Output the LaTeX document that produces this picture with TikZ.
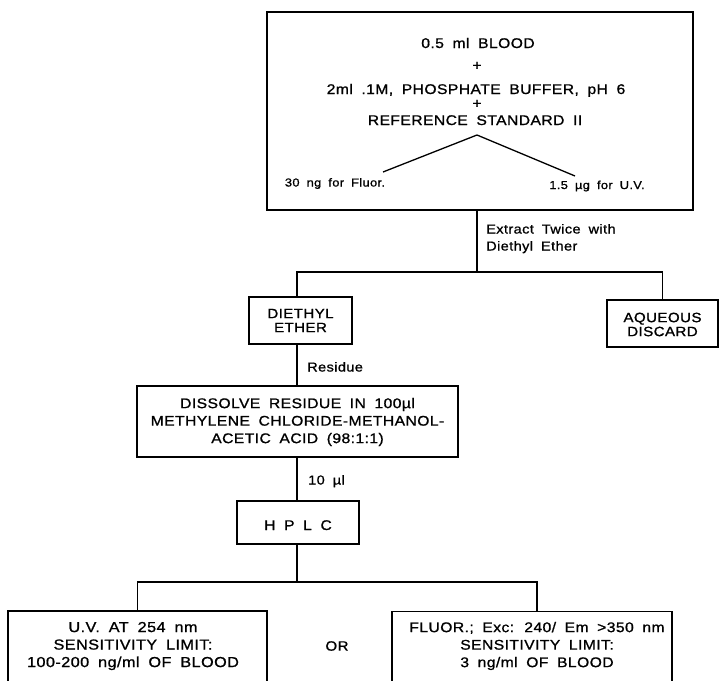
\documentclass[tikz,border=0pt]{standalone}
\usepackage{fontspec}
\setmainfont{Liberation Sans}[FakeStretch=1.12,LetterSpace=3,WordSpace=1.8,FakeBold=1]
\begin{document}
\begin{tikzpicture}[x=1pt,y=-1pt,
  box/.style={draw,line width=1.3pt,inner sep=0pt},
  big/.style={inner sep=0pt,anchor=base,font=\fontsize{14}{17}\selectfont},
  mid/.style={inner sep=0pt,font=\fontsize{13.5}{14}\selectfont,align=center},
  sm/.style={inner sep=0pt,anchor=base,font=\fontsize{11.5}{14}\selectfont},
  lbl/.style={inner sep=0pt,anchor=base west,font=\fontsize{13}{16}\selectfont},
  para/.style={inner sep=0pt,align=center,font=\fontsize{14}{17.5}\selectfont},
  wide/.style={inner sep=0pt,align=center,font=\fontsize{14.5}{17.5}\selectfont},
  conn/.style={line width=1.3pt}]
\useasboundingbox (0,0) rectangle (720,680);
\clip (0,0) rectangle (720,680);
% top box
\node[box,minimum width=426pt,minimum height=198pt] (top) at (480,111) {};
\node[big] (t1) at (478,48) {0.5 ml BLOOD};
\node[big] (p1) at (477,70) {+};
\node[big] (t2) at (476,94) {2ml .1M, PHOSPHATE BUFFER, pH 6};
\node[big] (p2) at (477,108) {+};
\node[big] (t3) at (475,125) {REFERENCE STANDARD II};
\coordinate (apex) at (477,135);
\coordinate (tl) at (383,172);
\coordinate (tr) at (575,176);
\draw[conn] (tl) -- (apex) -- (tr);
\node[sm] (fl) at (335,186.5) {30 ng for Fluor.};
\node[sm] (uv) at (597,189) {1.5 µg for U.V.};
% extraction
\coordinate (j1) at (477,272);
\coordinate (j2) at (297,272);
\node[lbl] (ex1) at (486,233.5) {Extract Twice with};
\node[lbl] (ex2) at (486,250.5) {Diethyl Ether};
\node[box,minimum width=103pt,minimum height=47pt] (dee) at (300.5,320.5) {};
\node[mid] (deet) at (300.5,320.5) {DIETHYL\\ETHER};
\node[box,minimum width=111pt,minimum height=47pt] (aq) at (662.5,323.5) {};
\node[mid] (aqt) at (662.5,324.5) {AQUEOUS\\DISCARD};
\draw[conn] (top.south -| j1) -- (j1) -| (j2 |- dee.north);
\draw[conn] (j1) -| (aq.north);
% dissolve
\node[box,minimum width=321pt,minimum height=71pt] (dis) at (297.5,421.5) {};
\node[para] (dist) at (297.5,422) {DISSOLVE RESIDUE IN 100µl\\METHYLENE CHLORIDE-METHANOL-\\ACETIC ACID (98:1:1)};
\draw[conn] (j2 |- dee.south) -- (j2 |- dis.north);
\node[lbl] (res) at (307,371.5) {Residue};
% HPLC
\node[box,minimum width=122pt,minimum height=43pt] (hplc) at (298,522.5) {};
\node[big] (hplct) at (298,530) {H P L C};
\draw[conn] (j2 |- dis.south) -- (j2 |- hplc.north);
\node[lbl] (ten) at (308,484.5) {10 µl};
% bottom
\coordinate (j4) at (297,582);
\coordinate (j5) at (537,582);
\node[box,minimum width=259pt,minimum height=89pt] (uvb) at (137.5,655.5) {};
\node[wide] (uvt) at (133,646) {U.V. AT 254 nm\\SENSITIVITY LIMIT:\\100-200 ng/ml OF BLOOD};
\node[box,minimum width=280pt,minimum height=89pt] (flb) at (532,656) {};
\node[para] (flt) at (537,646) {FLUOR.; Exc: 240/ Em >350 nm\\SENSITIVITY LIMIT:\\3 ng/ml OF BLOOD};
\node[mid] (or) at (337,646) {OR};
\draw[conn] (j4 |- hplc.south) -- (j4);
\draw[conn] (uvb.north) |- (j4) -| (j5 |- flb.north);
\end{tikzpicture}
\end{document}
